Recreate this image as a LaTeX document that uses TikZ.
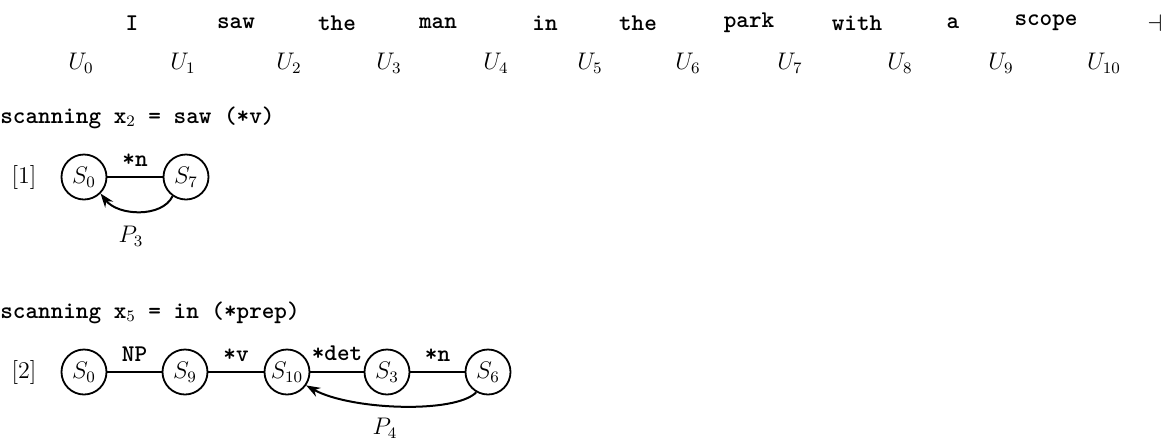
\documentclass[tikz,border=0pt]{standalone}
\usetikzlibrary{arrows.meta}
\begin{document}
\begin{tikzpicture}[x=0.5pt,y=-0.5pt,
  every node/.style={inner sep=0pt,font=\fontsize{12}{14}\selectfont},
  st/.style={draw,circle,line width=0.9pt,minimum size=22.5pt,inner sep=0pt},
  word/.style={font=\fontsize{12}{14}\selectfont\ttfamily\bfseries},
  lab/.style={font=\fontsize{12}{14}\selectfont\ttfamily\bfseries},
  edge/.style={line width=0.9pt},
  back/.style={line width=1pt,-{Stealth[length=7pt,width=5pt]}}]
\useasboundingbox (0,0) rectangle (1167,440);
% sentence
\node[word] (w1) at (132,23) {I};
\node[word] (w2) at (236,23) {saw};
\node[word] (w3) at (337,23) {the};
\node[word] (w4) at (438,23) {man};
\node[word] (w5) at (545,23) {in};
\node[word] (w6) at (638,23) {the};
\node[word] (w7) at (749,23) {park};
\node[word] (w8) at (857,23) {with};
\node[word] (w9) at (953,23) {a};
\node[word] (w10) at (1046,23) {scope};
\node (end) at (1155,23) {$\dashv$};
% positions
\node (u0) at (81,63) {$U_0$};
\node (u1) at (183,63) {$U_1$};
\node (u2) at (289,63) {$U_2$};
\node (u3) at (389,63) {$U_3$};
\node (u4) at (496,63) {$U_4$};
\node (u5) at (590,63) {$U_5$};
\node (u6) at (688,63) {$U_6$};
\node (u7) at (790,63) {$U_7$};
\node (u8) at (900,63) {$U_8$};
\node (u9) at (1001,63) {$U_9$};
\node (u10) at (1104,63) {$U_{10}$};
% step 1
\node[word,anchor=base west] (h1) at (0,123) {scanning x$_2$ = saw (*v)};
\node (n1) at (24,177) {[1]};
\node[st] (a0) at (84,177) {$S_0$};
\node[st] (a7) at (186,177) {$S_7$};
\draw[edge] (a0) -- node[lab,above=5pt] (l1) {*n} (a7);
\draw[back] (a7.235) .. controls (162,218) and (118,216) .. (a0.-45);
\node (p3) at (131,236) {$P_3$};
% step 2
\node[word,anchor=base west] (h2) at (0,318) {scanning x$_5$ = in (*prep)};
\node (n2) at (24,372) {[2]};
\node[st] (b0) at (84,372) {$S_0$};
\node[st] (b9) at (185,372) {$S_9$};
\node[st] (b10) at (287,372) {$S_{10}$};
\node[st] (b3) at (387,372) {$S_3$};
\node[st] (b6) at (488,372) {$S_6$};
\draw[edge] (b0) -- node[lab,above=5pt] (l2) {NP} (b9);
\draw[edge] (b9) -- node[lab,above=5pt] (l3) {*v} (b10);
\draw[edge] (b10) -- node[lab,above=5pt] (l4) {*det} (b3);
\draw[edge] (b3) -- node[lab,above=5pt] (l5) {*n} (b6);
\draw[back] (b6.240) .. controls (455,414) and (350,410) .. (b10.-35);
\node (p4) at (385,428) {$P_4$};
\end{tikzpicture}
\end{document}
